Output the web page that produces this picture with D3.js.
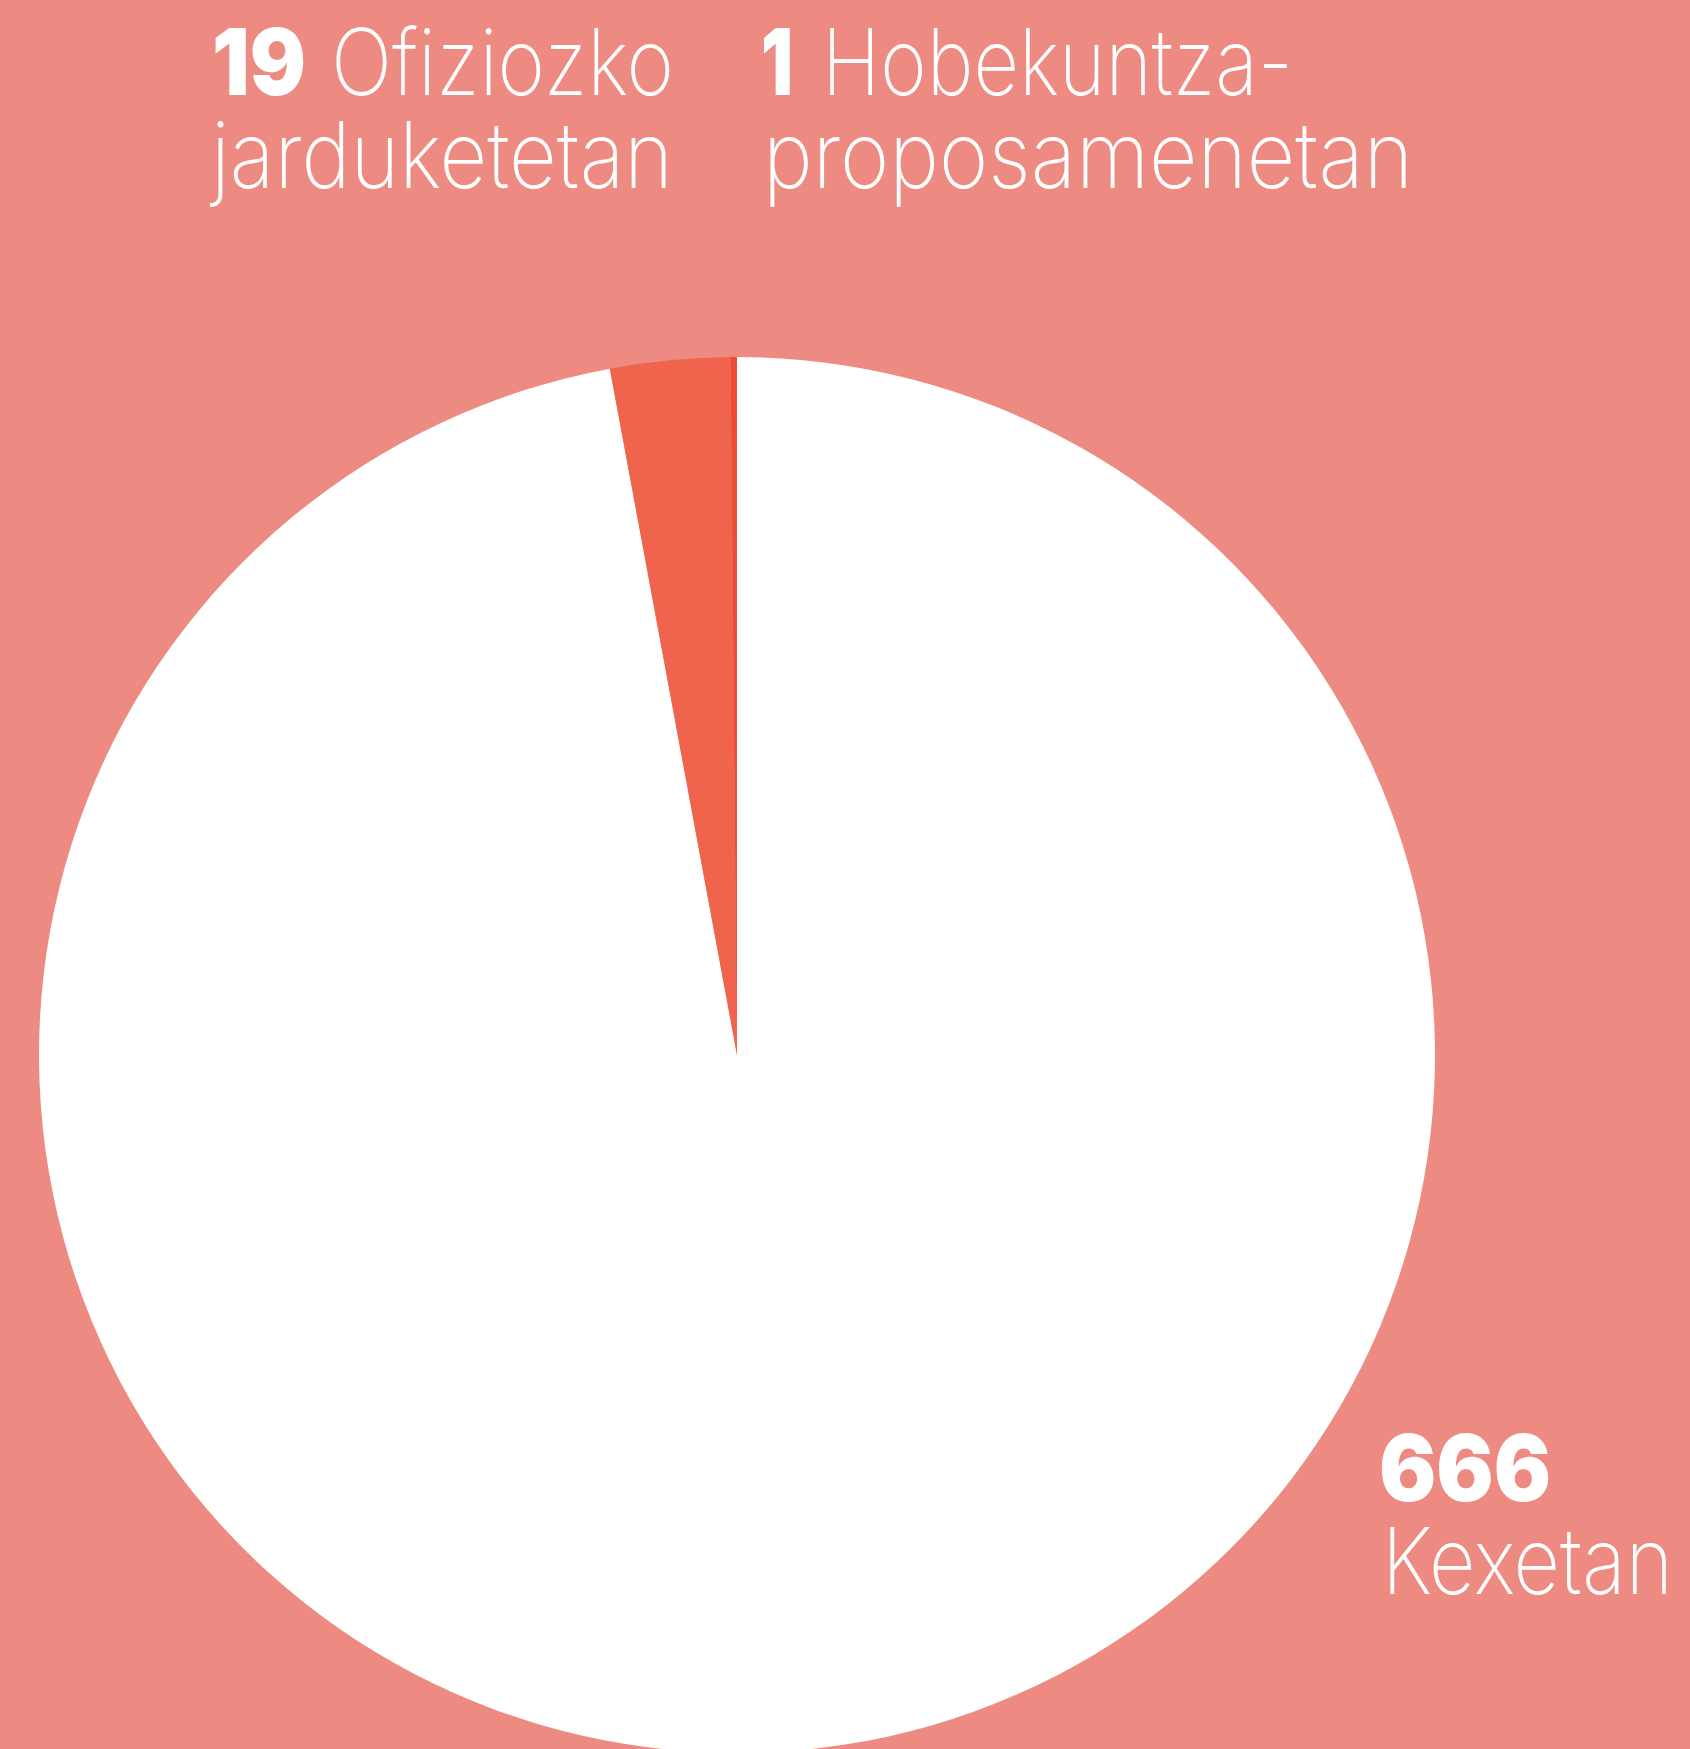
<!DOCTYPE html>
<html>
<head>
<meta charset="utf-8">
<script src="https://cdn.jsdelivr.net/npm/d3@7"></script>
<style>
  html, body { margin: 0; padding: 0; background: #ed8b82; }
  svg { display: block; }
</style>
</head>
<body>
<svg id="chart" width="1690" height="1749"></svg>
<script>
// data
const categories = ["Kexetan", "Ofiziozko jarduketetan", "Hobekuntza-proposamenetan"];
const values = [666, 19, 1];
const colors = ["#ffffff", "#f0644e", "#ee4b35"];
// label text, split in lines as in the picture
const labelFirst = ["", "Ofiziozko", "Hobekuntza-"];
const labelSecond = ["Kexetan", "jarduketetan", "proposamenetan"];

const W = 1690, H = 1749;
const cx = 737, cy = 1055, R = 698;
const numFont = "Inter, 'Liberation Sans', sans-serif";
const lblFont = "Inter, 'Liberation Sans', sans-serif";

const svg = d3.select("#chart");
svg.append("rect").attr("width", W).attr("height", H).attr("fill", "#ed8b82");

const pie = d3.pie().sort(null).value(d => d);
const arc = d3.arc().innerRadius(0).outerRadius(R);

const g = svg.append("g").attr("transform", `translate(${cx},${cy})`);
g.selectAll("path")
    .data(pie(values))
    .join("path")
    .attr("d", arc)
    .attr("fill", (d, i) => colors[i]);

// label layout
const labelPos = [
    {x: 1379, y: 1501, numW: 172, w1: 0, x1: 0, x2: 1382, w2: 291},
    {x: 212, y: 95, numW: 94, w1: 343, x1: 331, x2: 211, w2: 462},
    {x: 761, y: 95, numW: 32, w1: 471, x1: 822, x2: 763, w2: 650}
];

const fs = 92;
values.forEach((v, i) => {
    let p = labelPos[i];
    svg.append("text")
        .attr("x", p.x).attr("y", p.y)
        .attr("font-family", numFont).attr("font-weight", 900)
        .attr("font-size", fs).attr("fill", "#fff")
        .attr("textLength", p.numW).attr("lengthAdjust", "spacingAndGlyphs")
        .text(v);
    if(labelFirst[i]) {
        svg.append("text")
            .attr("x", p.x1).attr("y", p.y)
            .attr("font-family", lblFont).attr("font-weight", 200)
            .attr("font-size", fs).attr("fill", "#fff")
            .attr("textLength", p.w1).attr("lengthAdjust", "spacingAndGlyphs")
            .text(labelFirst[i]);
    }
    svg.append("text")
        .attr("x", p.x2)
        .attr("y", p.y + 93)
        .attr("font-family", lblFont).attr("font-weight", 200)
        .attr("font-size", fs).attr("fill", "#fff")
        .attr("textLength", p.w2).attr("lengthAdjust", "spacingAndGlyphs")
        .text(labelSecond[i]);
});
</script>
</body>
</html>
